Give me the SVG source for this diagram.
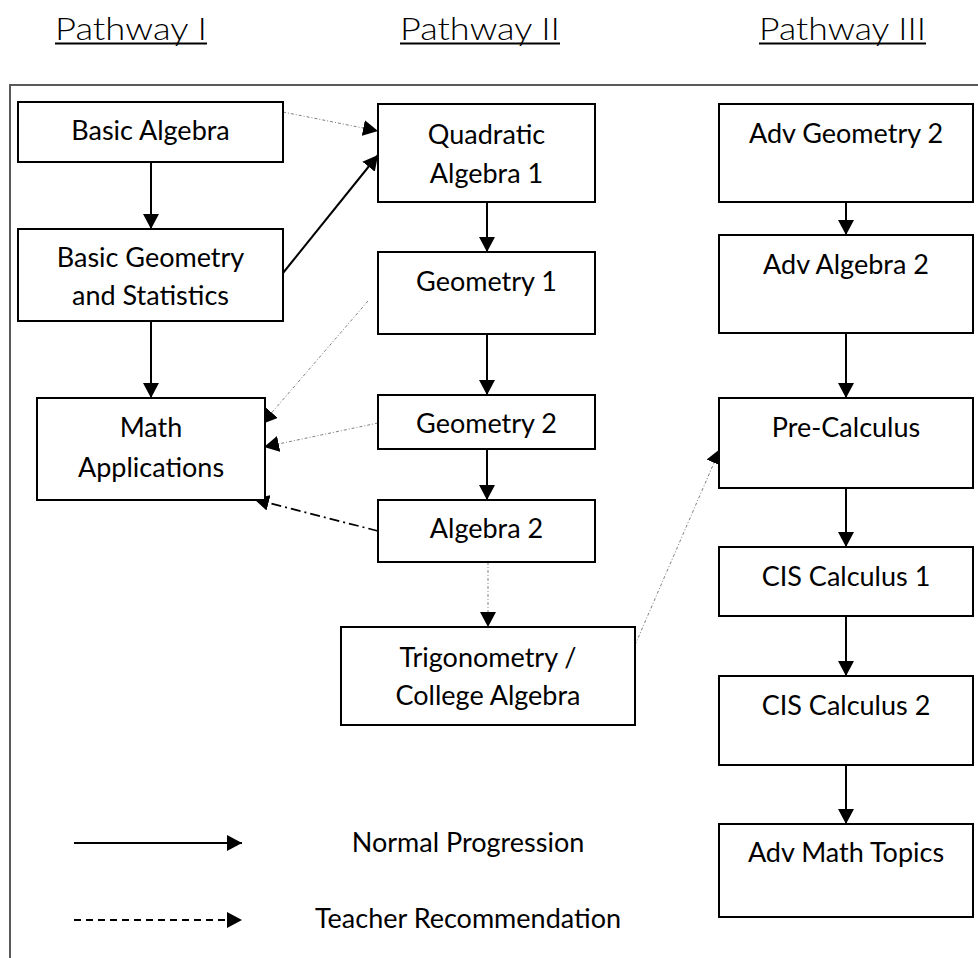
<svg xmlns="http://www.w3.org/2000/svg" width="978" height="958" viewBox="0 0 978 958">
<defs>
<style>
.box{fill:#fff;stroke:#000;stroke-width:2}
.lbl{font-family:Lato,"Liberation Sans",sans-serif;font-size:27px;fill:#000;text-anchor:middle}
.hdr{font-family:Lato,"Liberation Sans",sans-serif;font-size:32px;font-weight:300;fill:#000}
.solid{stroke:#000;stroke-width:2;fill:none}
.dot{stroke:#808080;stroke-width:1;fill:none;stroke-dasharray:3 2 1 2}
.dashdot{stroke:#000;stroke-width:1.8;fill:none;stroke-dasharray:10 4 2 4}
.dash{stroke:#000;stroke-width:2;fill:none;stroke-dasharray:7 5}
</style>
<marker id="ah" markerUnits="userSpaceOnUse" markerWidth="16" markerHeight="16" refX="15" refY="8" orient="auto" viewBox="0 0 16 16">
<path d="M0,0 L15,8 L0,16 z" fill="#000"/>
</marker>
</defs>
<rect width="978" height="958" fill="#fff"/>
<g id="headers">
<text class="hdr" x="55" y="40" textLength="152" lengthAdjust="spacingAndGlyphs">Pathway I</text>
<rect x="55" y="42.5" width="152" height="2" fill="#000"/>
<text class="hdr" x="400" y="40" textLength="160" lengthAdjust="spacingAndGlyphs">Pathway II</text>
<rect x="400" y="42.5" width="160" height="2" fill="#000"/>
<text class="hdr" x="759" y="40" textLength="167" lengthAdjust="spacingAndGlyphs">Pathway III</text>
<rect x="759" y="42.5" width="167" height="2" fill="#000"/>
</g>
<path id="frame" d="M978,85 H10 V958" fill="none" stroke="#595959" stroke-width="2"/>
<g id="connectors">
<line class="solid" x1="151" y1="162" x2="151" y2="229" marker-end="url(#ah)"/>
<line class="solid" x1="151" y1="321" x2="151" y2="398" marker-end="url(#ah)"/>
<line class="solid" x1="283" y1="273" x2="378" y2="155" marker-end="url(#ah)"/>
<line class="dot" x1="283" y1="112" x2="378" y2="131" marker-end="url(#ah)"/>
<line class="dot" x1="368" y1="301" x2="262" y2="424" marker-end="url(#ah)"/>
<line class="dot" x1="378" y1="423" x2="264" y2="447" marker-end="url(#ah)"/>
<line class="dashdot" x1="378" y1="531" x2="254" y2="499" marker-end="url(#ah)"/>
<line class="solid" x1="487" y1="202" x2="487" y2="252" marker-end="url(#ah)"/>
<line class="solid" x1="487" y1="334" x2="487" y2="395" marker-end="url(#ah)"/>
<line class="solid" x1="487" y1="449" x2="487" y2="500" marker-end="url(#ah)"/>
<line class="dot" x1="488" y1="562" x2="488" y2="627" marker-end="url(#ah)"/>
<line class="dot" x1="635" y1="645" x2="720" y2="449" marker-end="url(#ah)"/>
<line class="solid" x1="846" y1="202" x2="846" y2="235" marker-end="url(#ah)"/>
<line class="solid" x1="846" y1="333" x2="846" y2="398" marker-end="url(#ah)"/>
<line class="solid" x1="846" y1="488" x2="846" y2="547" marker-end="url(#ah)"/>
<line class="solid" x1="846" y1="616" x2="846" y2="676" marker-end="url(#ah)"/>
<line class="solid" x1="846" y1="765" x2="846" y2="824" marker-end="url(#ah)"/>
<line class="solid" x1="74" y1="843" x2="242" y2="843" marker-end="url(#ah)"/>
<line class="dash" x1="74" y1="920" x2="242" y2="920" marker-end="url(#ah)"/>
</g>
<g id="basic-algebra"><rect class="box" x="18" y="102" width="265" height="60"/><text class="lbl" x="150.5" y="140">Basic Algebra</text></g>
<g id="basic-geometry"><rect class="box" x="18" y="229" width="265" height="92"/><text class="lbl" x="150.5" y="267">Basic Geometry</text><text class="lbl" x="150.5" y="305">and Statistics</text></g>
<g id="math-applications"><rect class="box" x="37" y="398" width="228" height="102"/><text class="lbl" x="151" y="437">Math</text><text class="lbl" x="151" y="477">Applications</text></g>
<g id="quadratic-algebra-1"><rect class="box" x="378" y="104" width="217" height="98"/><text class="lbl" x="486.5" y="144">Quadratic</text><text class="lbl" x="486.5" y="183">Algebra 1</text></g>
<g id="geometry-1"><rect class="box" x="378" y="252" width="217" height="82"/><text class="lbl" x="486.5" y="291">Geometry 1</text></g>
<g id="geometry-2"><rect class="box" x="378" y="395" width="217" height="54"/><text class="lbl" x="486.5" y="433">Geometry 2</text></g>
<g id="algebra-2"><rect class="box" x="378" y="500" width="217" height="62"/><text class="lbl" x="486.5" y="538">Algebra 2</text></g>
<g id="trigonometry"><rect class="box" x="341" y="627" width="294" height="98"/><text class="lbl" x="488" y="667">Trigonometry /</text><text class="lbl" x="488" y="705">College Algebra</text></g>
<g id="adv-geometry-2"><rect class="box" x="719" y="104" width="254" height="98"/><text class="lbl" x="846" y="143">Adv Geometry 2</text></g>
<g id="adv-algebra-2"><rect class="box" x="719" y="235" width="254" height="98"/><text class="lbl" x="846" y="274">Adv Algebra 2</text></g>
<g id="pre-calculus"><rect class="box" x="719" y="398" width="254" height="90"/><text class="lbl" x="846" y="437">Pre-Calculus</text></g>
<g id="cis-calculus-1"><rect class="box" x="719" y="547" width="254" height="69"/><text class="lbl" x="846" y="586">CIS Calculus 1</text></g>
<g id="cis-calculus-2"><rect class="box" x="719" y="676" width="254" height="89"/><text class="lbl" x="846" y="715">CIS Calculus 2</text></g>
<g id="adv-math-topics"><rect class="box" x="719" y="824" width="254" height="93"/><text class="lbl" x="846" y="862">Adv Math Topics</text></g>
<g id="legend">
<text class="lbl" x="468" y="852">Normal Progression</text>
<text class="lbl" x="468" y="928">Teacher Recommendation</text>
</g>
</svg>
